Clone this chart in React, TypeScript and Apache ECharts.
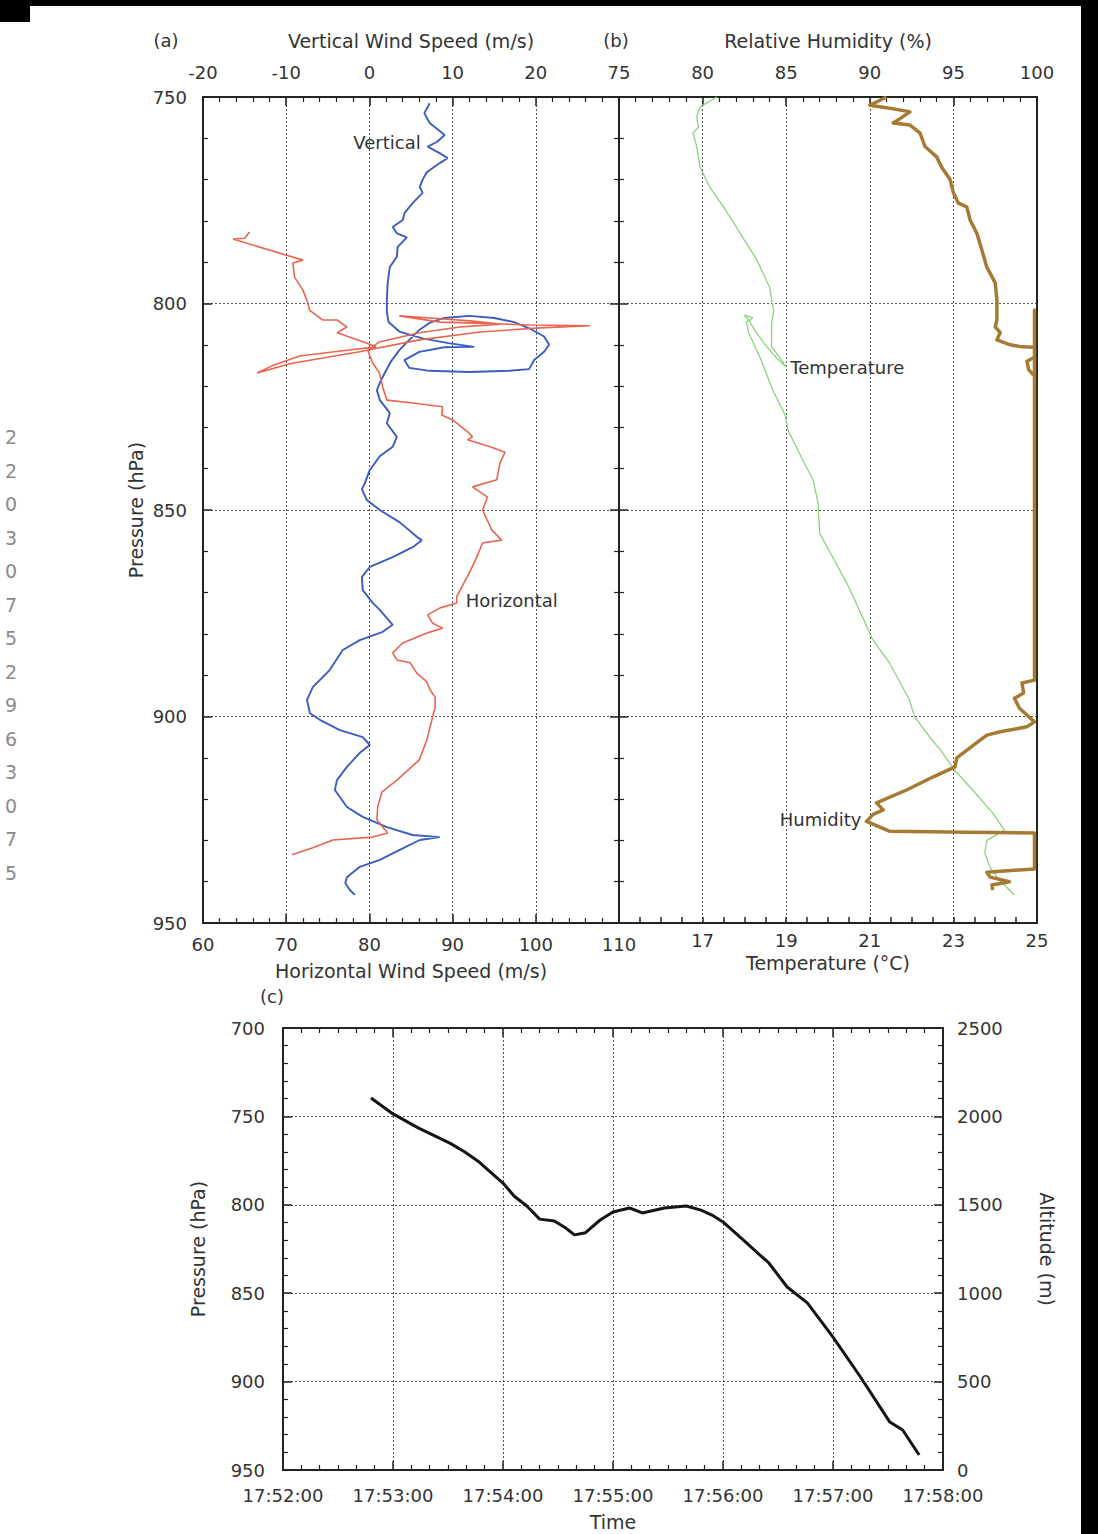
import React, { useEffect, useRef } from 'react';
import * as echarts from 'echarts';

// ---------- DATA ----------
// Panel (a): vertical wind speed [m/s, hPa], in flight order
const verticalWind: number[][] = [
  [7.25, 751.5], [6.6, 753.9], [7.25, 756.3], [9.05, 759.2], [8.1, 760.9], [7.0, 762], [8.45, 763.6],
  [9.4, 764.8], [8.45, 766], [6.9, 768.2], [6.4, 770], [6.05, 771.8], [6.4, 773.2], [5.2, 775.7],
  [4.25, 778], [4.0, 779.8], [2.8, 781.5], [3.3, 783], [4.5, 784], [3.4, 786.3], [3.3, 788.7],
  [2.45, 791.2], [2.2, 795], [2.1, 799], [2.1, 802], [2.3, 804.5], [3.6, 806.8], [6.5, 808.5],
  [9.5, 809.6], [12.6, 810.5], [9.0, 810.6], [6.0, 811.7], [4.2, 813.7], [4.8, 815.6], [7.2, 816.3],
  [12, 816.6], [16.8, 816.3], [19.2, 815.9], [19.8, 813.7], [21, 811.7], [21.6, 810], [21, 808],
  [19.2, 806], [17.4, 804.5], [15, 803.5], [12, 803], [9, 803.5], [7.2, 804.7], [6.0, 806.4],
  [4.8, 808.8], [3.6, 811.3], [2.6, 814], [1.8, 817], [1.25, 819.2], [0.9, 821], [1.25, 823.4],
  [2.45, 826.5], [2.1, 829], [3.3, 832.3], [2.8, 834.7], [1.25, 837], [0.05, 840.3], [-0.55, 843.5],
  [-0.9, 845], [-0.3, 847.6], [1.25, 850], [3.65, 853], [5.7, 856.5], [6.3, 857.3], [5.2, 859],
  [2.8, 861.4], [0.05, 863.8], [-0.9, 866.2], [-0.8, 869.4], [0.4, 872.5], [1.25, 874.2], [2.8, 877.8],
  [1.6, 879.5], [-1.15, 881.5], [-3.2, 883.9], [-4.75, 888.7], [-6.8, 892.9], [-7.5, 896], [-7.15, 899.2],
  [-5.95, 900.8], [-3.55, 903.3], [-0.8, 905], [0.05, 906.9], [-1.15, 908.8], [-2.7, 912.2], [-3.9, 915.4],
  [-4.15, 917.8], [-2.7, 921.9], [-0.8, 924.3], [2.1, 926.8], [5.2, 928.7], [8.45, 929.2], [6.05, 929.9],
  [3.65, 932.3], [1.25, 934.7], [-1.15, 936.4], [-2.7, 938.9], [-2.9, 940.3], [-2.35, 942], [-1.75, 943.2],
];

// Panel (a): horizontal wind speed [m/s, hPa]
const horizontalWind: number[][] = [
  [65.6, 782.7], [65.0, 784.2], [63.6, 784.4], [72.0, 789.5], [70.8, 790.2], [71.0, 793.6], [72.0, 796.7],
  [72.6, 799.9], [72.8, 801.6], [74.4, 804], [76.1, 804], [77.3, 805.7], [76.1, 807.1], [77.6, 808.1],
  [79.7, 809.6], [80.8, 810.5], [76.5, 811.5], [71.6, 812.7], [68.3, 815.1], [66.5, 816.8], [68, 816],
  [70.4, 814.6], [78.8, 811.7], [86, 808.8], [93.3, 806.9], [100.5, 805.9], [106.5, 805.4], [99.3, 805.2],
  [92, 804.7], [88.5, 804.5], [83.6, 803], [88.5, 803.7], [92.1, 804.2], [95.7, 805], [90.9, 805.7],
  [86, 807.1], [81.2, 809.3], [79.8, 811.3], [80.4, 814.4], [81.2, 816.8], [81.6, 820.2], [82.1, 823.4],
  [85.2, 824.1], [88.8, 825], [88.7, 827], [90, 828.2], [92, 831.4], [92.4, 832.3], [91.8, 833],
  [94.5, 834.7], [96.3, 836], [95.7, 838.6], [95.3, 842.7], [92.4, 844.4], [94.2, 846.9], [93.6, 850],
  [94.7, 854.8], [95.9, 857.3], [93.6, 858], [92.9, 861.4], [92, 865.3], [91.1, 868.6], [90.5, 871],
  [90.5, 872.5], [88.5, 873.7], [87, 875.4], [87.6, 877.4], [88.8, 878.6], [86.9, 879.8], [84, 882.2],
  [82.8, 884.6], [83.3, 886.3], [84.9, 887], [85.7, 889.5], [86.9, 891.6], [87.3, 893.6], [87.9, 895.3],
  [87.9, 897.7], [87.6, 900.1], [86.9, 905.7], [86, 910.5], [83.3, 915.4], [81.5, 918.3], [81, 921.9],
  [80.9, 925], [82.2, 928.2], [80.4, 929.2], [75.6, 929.9], [73.2, 931.8], [70.7, 933.5],
];

// Panel (b): temperature [°C, hPa]
const temperature: number[][] = [
  [17.34, 750], [16.94, 752.4], [16.86, 754.8], [16.9, 757.3], [16.77, 758.7], [16.86, 762], [16.94, 767],
  [17.17, 771.8], [17.5, 776.6], [17.9, 783], [18.3, 789.5], [18.6, 796], [18.7, 801.6], [18.65, 805],
  [18.65, 810.5], [18.77, 812], [19.0, 815.4], [18.75, 813], [18.5, 810], [18.25, 806.5], [18.1, 804],
  [18.0, 802.8], [18.2, 803.5], [18.05, 804.5], [18.1, 807], [18.4, 813.7], [18.68, 821], [18.97, 826.9],
  [19.04, 830.6], [19.4, 838], [19.64, 842.6], [19.76, 848.2], [19.8, 855.6], [20.1, 861.2], [20.45, 867.7],
  [20.83, 876], [21.07, 881.4], [21.47, 887], [21.95, 896], [22.07, 900], [22.36, 904], [22.74, 908.8],
  [23.03, 913], [23.46, 917.8], [23.94, 923.4], [24.22, 927.5], [23.8, 930], [23.75, 933], [23.87, 936.4],
  [24.1, 939.6], [24.46, 943.2],
];

// Panel (b): relative humidity [%, hPa]
const humidity: number[][] = [
  [91.0, 750], [90.0, 752], [90.8, 752.5], [91.6, 753], [92.4, 753.6], [91.9, 755], [91.4, 756.3],
  [92.4, 756.8], [93.0, 758.7], [93.3, 762], [94.0, 764.5], [94.3, 767], [94.8, 770], [95.0, 773.2],
  [95.3, 775.7], [95.8, 776.6], [96.0, 779.8], [96.4, 783], [96.7, 787], [97.0, 791.2], [97.5, 795],
  [97.6, 799], [97.6, 804], [97.5, 805.7], [97.8, 807], [97.6, 808.8], [98.4, 810], [99.1, 810.5],
  [99.85, 810.6], [99.85, 813], [99.4, 814], [99.5, 816], [99.85, 817.6], [99.85, 801.6], [99.85, 891.2],
  [99.1, 891.9], [99.2, 894.3], [98.65, 895.6], [98.95, 898], [99.85, 901.3], [99.4, 902.5], [97.8, 903.7],
  [97.0, 904.5], [96.6, 905.7], [95.2, 910], [95.1, 912.2], [93.8, 914.6], [92.2, 917.8], [90.4, 920.9],
  [90.8, 922.6], [90.2, 923.7], [89.8, 925.4], [91.2, 927.8], [95.8, 928], [99.85, 928.2], [99.85, 936.9],
  [97.0, 937.7], [97.2, 938.9], [98.35, 940], [97.3, 940.8], [97.35, 942],
];

// Panel (c): seconds after 17:52:00 and pressure (hPa)
const descentSeconds: number[] = [
  48, 60, 74, 91, 99, 107, 120, 126, 133, 140, 148, 154, 159, 165, 173, 180, 189, 196, 208, 220,
  228, 234, 240, 251, 265, 275, 286, 300, 315, 331, 338, 347,
];
const descentPressure: number[] = [
  739.6, 748.6, 756.6, 765.1, 770, 775.8, 787.7, 795, 800.7, 808.1, 809.2, 813, 817, 815.8, 808.6, 804.1,
  801.8, 804.6, 801.8, 800.7, 803, 805.8, 809.7, 819.9, 832.9, 846.5, 855.5, 874.8, 897.4, 922.9, 927.4, 941.5,
];

const scanDigits = '22030752963075';

// ---------- STYLES ----------
const FONT = "'DejaVu Sans', sans-serif";
const TXT = '#333';
const axisLine = { show: true, onZero: false, lineStyle: { color: '#1e261e', width: 2 } };
const gridLine = { show: true, lineStyle: { color: '#4d5a4d', type: [2, 2] as number[], width: 1 } };
const tick = { show: true, inside: true, length: 9, lineStyle: { color: '#1e261e', width: 1.5 } };
const minor = (n: number) => ({ show: true, splitNumber: n, length: 5, lineStyle: { color: '#1e261e', width: 1.2 } });
const label = (margin: number, extra: any = {}) => ({ show: true, margin, fontSize: 18, color: TXT, fontFamily: FONT, ...extra });
const nameStyle = { fontSize: 19, color: TXT, fontFamily: FONT };

const timeLabel = (v: number) => `17:${52 + Math.round(v / 60)}:00`;
const plain = (v: number) => String(v);

function buildOption(): any {
  const descent = descentSeconds.map((t, i) => [t, descentPressure[i]]);
  const noteLabel = (text: string, position: string, distance: number) => ({
    show: true, formatter: text, position, distance, fontSize: 18, color: TXT, fontFamily: FONT,
  });
  const note = (coord: number[], text: string, position: string, distance: number) => ({
    symbol: 'circle', symbolSize: 0.1, silent: true, itemStyle: { color: 'rgba(0,0,0,0)' },
    data: [{ coord, label: noteLabel(text, position, distance) }],
  });

  return {
    animation: false,
    backgroundColor: '#ffffff',
    textStyle: { fontFamily: FONT },
    grid: [
      { left: 203, top: 97, width: 416, height: 826 },
      { left: 619, top: 97, width: 418, height: 826 },
      { left: 283, top: 1028, width: 660, height: 442 },
    ],
    xAxis: [
      {
        gridIndex: 0, type: 'value', position: 'bottom', min: 60, max: 110, interval: 10,
        axisLine, axisTick: tick, minorTick: minor(5), splitLine: gridLine,
        axisLabel: label(12, { formatter: plain }),
        name: 'Horizontal Wind Speed (m/s)', nameLocation: 'middle', nameGap: 38, nameTextStyle: nameStyle,
      },
      {
        gridIndex: 0, type: 'value', position: 'top', min: -20, max: 30, interval: 10,
        axisLine, axisTick: tick, minorTick: minor(5), splitLine: { show: false },
        axisLabel: label(16, { showMaxLabel: false, formatter: plain }),
        name: 'Vertical Wind Speed (m/s)', nameLocation: 'middle', nameGap: 47, nameTextStyle: nameStyle,
      },
      {
        gridIndex: 1, type: 'value', position: 'bottom', min: 15, max: 25, interval: 0.5,
        axisLine, axisTick: { ...tick, length: 6 }, splitLine: { show: false },
        axisLabel: label(8, {
          interval: 0,
          formatter: (v: number) => (v >= 17 && Math.abs(v % 2 - 1) < 1e-6 ? String(v) : ''),
        }),
        name: 'Temperature (°C)', nameLocation: 'middle', nameGap: 27, nameTextStyle: nameStyle,
      },
      {
        gridIndex: 1, type: 'value', position: 'top', min: 75, max: 100, interval: 5,
        axisLine, axisTick: tick, minorTick: minor(5), splitLine: gridLine,
        axisLabel: label(16, { formatter: plain }),
        name: 'Relative Humidity (%)', nameLocation: 'middle', nameGap: 47, nameTextStyle: nameStyle,
      },
      {
        gridIndex: 2, type: 'value', position: 'bottom', min: 0, max: 360, interval: 60,
        axisLine, axisTick: tick, minorTick: minor(6), splitLine: gridLine,
        axisLabel: label(16, { formatter: timeLabel }),
        name: 'Time', nameLocation: 'middle', nameGap: 42, nameTextStyle: nameStyle,
      },
      {
        gridIndex: 2, type: 'value', position: 'top', min: 0, max: 360, interval: 60,
        axisLine, axisTick: tick, minorTick: minor(6), splitLine: { show: false },
        axisLabel: { show: false },
      },
    ],
    yAxis: [
      {
        gridIndex: 0, type: 'value', position: 'left', inverse: true, min: 750, max: 950, interval: 50,
        axisLine, axisTick: tick, minorTick: minor(5), splitLine: gridLine,
        axisLabel: label(16, { formatter: plain }),
        name: 'Pressure (hPa)', nameLocation: 'middle', nameGap: 58, nameTextStyle: nameStyle,
      },
      {
        gridIndex: 0, type: 'value', position: 'right', inverse: true, min: 750, max: 950, interval: 50,
        axisLine, axisTick: tick, minorTick: minor(5), splitLine: { show: false },
        axisLabel: { show: false },
      },
      {
        gridIndex: 1, type: 'value', position: 'left', inverse: true, min: 750, max: 950, interval: 50,
        axisLine, axisTick: tick, minorTick: minor(5), splitLine: gridLine,
        axisLabel: { show: false },
      },
      {
        gridIndex: 1, type: 'value', position: 'right', inverse: true, min: 750, max: 950, interval: 50,
        axisLine, axisTick: { show: false }, splitLine: { show: false }, axisLabel: { show: false },
      },
      {
        gridIndex: 2, type: 'value', position: 'left', inverse: true, min: 700, max: 950, interval: 50,
        axisLine, axisTick: tick, minorTick: minor(5), splitLine: gridLine,
        axisLabel: label(18, { formatter: plain }),
        name: 'Pressure (hPa)', nameLocation: 'middle', nameGap: 76, nameTextStyle: nameStyle,
      },
      {
        gridIndex: 2, type: 'value', position: 'right', min: 0, max: 2500, interval: 500,
        axisLine, axisTick: tick, minorTick: minor(5), splitLine: { show: false },
        axisLabel: label(14, { formatter: plain }),
        name: 'Altitude (m)', nameLocation: 'middle', nameGap: 94, nameRotate: -90, nameTextStyle: nameStyle,
      },
    ],
    series: [
      {
        name: 'Vertical', type: 'line', xAxisIndex: 1, yAxisIndex: 0, data: verticalWind,
        showSymbol: false, symbol: 'none', lineStyle: { color: '#3b5cc2', width: 1.9 }, z: 3,
        markPoint: note([8.1, 761], 'Vertical', 'left', 16),
      },
      {
        name: 'Horizontal', type: 'line', xAxisIndex: 0, yAxisIndex: 0, data: horizontalWind,
        showSymbol: false, symbol: 'none', lineStyle: { color: '#ea6450', width: 1.6 }, z: 4,
        markPoint: note([90.5, 871.8], 'Horizontal', 'right', 9),
      },
      {
        name: 'Temperature', type: 'line', xAxisIndex: 2, yAxisIndex: 2, data: temperature,
        showSymbol: false, symbol: 'none', lineStyle: { color: '#8ad37c', width: 1.3 }, z: 3,
        markPoint: note([19.0, 815.6], 'Temperature', 'right', 4),
      },
      {
        name: 'Humidity', type: 'line', xAxisIndex: 3, yAxisIndex: 2, data: humidity,
        showSymbol: false, symbol: 'none', lineStyle: { color: '#a77a33', width: 3.5, join: 'round' }, z: 4,
        markPoint: note([89.8, 925], 'Humidity', 'left', 5),
      },
      {
        name: 'Descent', type: 'line', xAxisIndex: 4, yAxisIndex: 4, data: descent,
        showSymbol: false, symbol: 'none', lineStyle: { color: '#141414', width: 3, join: 'round' }, z: 3,
      },
    ],
    graphic: [
      { type: 'rect', shape: { x: 0, y: 0, width: 1098, height: 6 }, style: { fill: '#000' }, silent: true },
      { type: 'rect', shape: { x: 0, y: 0, width: 30, height: 22 }, style: { fill: '#000' }, silent: true },
      { type: 'rect', shape: { x: 1081, y: 0, width: 17, height: 1534 }, style: { fill: '#000' }, silent: true },
      { type: 'text', x: 166, y: 40, style: { text: '(a)', fontSize: 18, fill: TXT, fontFamily: FONT, align: 'center', verticalAlign: 'middle' } },
      { type: 'text', x: 616, y: 40, style: { text: '(b)', fontSize: 18, fill: TXT, fontFamily: FONT, align: 'center', verticalAlign: 'middle' } },
      { type: 'text', x: 272, y: 996, style: { text: '(c)', fontSize: 18, fill: TXT, fontFamily: FONT, align: 'center', verticalAlign: 'middle' } },
      ...scanDigits.split('').map((d, i) => ({
        type: 'text', x: 11, y: 437 + i * 33.5,
        style: { text: d, fontSize: 19, fill: '#8a8a8a', fontFamily: FONT, align: 'center', verticalAlign: 'middle' },
        silent: true,
      })),
    ],
  };
}

export default function App() {
  const ref = useRef<HTMLDivElement>(null);
  useEffect(() => {
    if (!ref.current) return;
    const chart = echarts.init(ref.current, undefined, { renderer: 'svg' });
    chart.setOption(buildOption());
    return () => chart.dispose();
  }, []);
  return (
    <div
      ref={ref}
      style={{ position: 'absolute', left: 0, top: 0, width: 1098, height: 1534, background: '#fff' }}
    />
  );
}
